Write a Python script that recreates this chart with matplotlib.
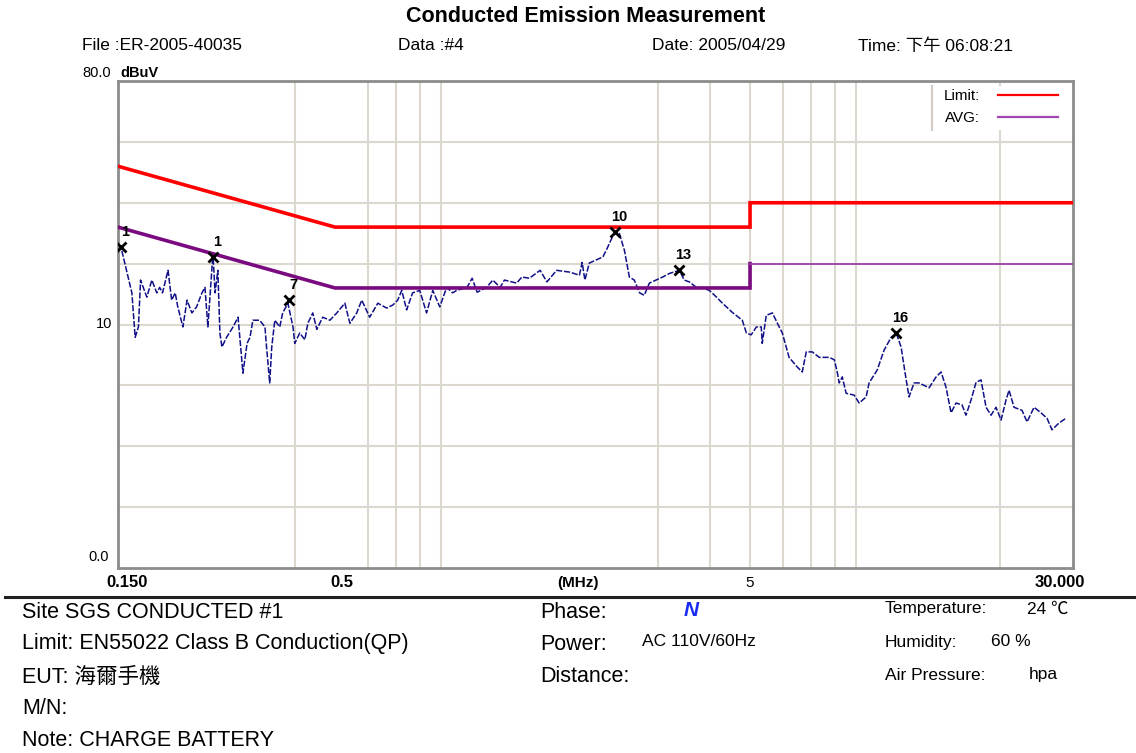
import numpy as np
import matplotlib
matplotlib.use('Agg')
import matplotlib.pyplot as plt
from matplotlib.lines import Line2D
from matplotlib.transforms import offset_copy

plt.rcParams['font.family'] = ['Liberation Sans', 'Noto Sans CJK TC', 'DejaVu Sans']

# trace: frequency (MHz), level (dBuV)
freq = [0.150, 0.1525, 0.162, 0.165, 0.168, 0.170, 0.176, 0.181, 0.186, 0.189,
        0.192, 0.198, 0.202, 0.206, 0.209, 0.215, 0.220, 0.226, 0.232, 0.239,
        0.243, 0.247, 0.254, 0.257, 0.261, 0.264, 0.267, 0.274, 0.284, 0.292,
        0.300, 0.307, 0.312, 0.317, 0.329, 0.339, 0.342, 0.348, 0.352, 0.358,
        0.368, 0.374, 0.385, 0.396, 0.400, 0.411, 0.423, 0.430, 0.442, 0.452,
        0.467, 0.486, 0.505, 0.528, 0.543, 0.564, 0.580, 0.606, 0.634, 0.666,
        0.689, 0.708, 0.724, 0.744, 0.769, 0.800, 0.831, 0.860, 0.894, 0.929,
        0.960, 0.982, 1.04, 1.07, 1.10, 1.16, 1.20, 1.25, 1.28, 1.37,
        1.41, 1.47, 1.56, 1.62, 1.71, 1.84, 1.94, 1.97, 2.00, 2.05,
        2.13, 2.21, 2.27, 2.33, 2.37, 2.42, 2.49, 2.56, 2.63, 2.71,
        2.78, 2.86, 2.97, 3.08, 3.20, 3.38, 3.47, 3.57, 3.71, 3.84,
        3.99, 4.15, 4.29, 4.53, 4.79, 4.90, 5.03, 5.18, 5.32, 5.35,
        5.47, 5.66, 5.82, 5.98, 6.21, 6.50, 6.68, 6.83, 7.06, 7.34,
        7.76, 7.98, 8.11, 8.20, 8.34, 8.52, 8.91, 9.16, 9.52, 9.68,
        10.12, 10.52, 10.94, 11.25, 11.56, 11.76, 11.89, 12.08, 12.42, 12.77,
        13.50, 14.04, 14.43, 14.83, 15.25, 15.68, 16.21, 16.57, 17.04, 17.52,
        18.01, 18.52, 19.04, 19.57, 20.13, 20.69, 21.04, 21.63, 22.61, 23.25,
        24.17, 25.11, 25.97, 26.70, 27.74, 28.84]
level = [52.2, 52.7, 45.2, 37.9, 39.6, 47.3, 44.5, 47.3, 45.2, 46.1,
         45.2, 48.9, 44.0, 45.2, 42.9, 39.6, 44.0, 41.9, 42.9, 45.2,
         46.1, 39.6, 51.7, 45.2, 48.9, 38.6, 36.3, 37.9, 39.6, 41.2,
         32.0, 36.9, 37.9, 40.7, 40.7, 39.6, 36.3, 30.4, 36.3, 40.7,
         39.6, 41.9, 43.5, 39.6, 36.9, 38.6, 37.5, 40.2, 41.9, 39.2,
         41.2, 40.7, 41.9, 43.5, 40.2, 41.9, 44.0, 41.2, 43.5, 42.7,
         43.2, 44.0, 45.6, 42.4, 45.2, 45.6, 41.9, 45.6, 42.9, 46.1,
         45.2, 45.6, 46.1, 47.6, 45.3, 46.1, 47.3, 46.1, 47.3, 46.8,
         47.8, 47.6, 48.9, 47.0, 48.9, 48.6, 48.1, 50.2, 47.3, 50.1,
         50.6, 51.1, 52.7, 54.4, 55.2, 55.0, 52.2, 47.8, 47.3, 45.2,
         44.8, 46.8, 47.3, 47.8, 48.4, 48.9, 47.3, 47.0, 46.1, 46.0,
         45.6, 44.5, 43.5, 42.0, 40.7, 38.6, 38.3, 39.6, 39.6, 36.9,
         41.5, 41.9, 40.2, 38.6, 34.6, 33.0, 32.2, 35.5, 35.5, 34.6,
         34.6, 34.2, 32.2, 30.4, 31.4, 28.7, 28.4, 27.1, 28.1, 30.4,
         32.5, 35.8, 37.9, 38.6, 36.3, 33.0, 30.9, 28.1, 30.4, 30.4,
         29.6, 31.4, 32.2, 29.7, 25.5, 27.1, 26.8, 25.1, 27.6, 30.5,
         30.9, 26.4, 25.1, 26.4, 24.3, 27.6, 29.2, 26.4, 25.9, 24.0,
         26.4, 25.5, 24.6, 22.7, 23.8, 24.6]

# EN55022 class B limits
qp_f = [0.15, 0.5, 5, 5, 30]
qp_db = [66, 56, 56, 60, 60]
avg_f = [0.15, 0.5, 5, 5]
avg_db = [56, 46, 46, 50]
avg_hi_f = [5, 30]
avg_hi_db = [50, 50]

# marked peaks
mark_f = [0.1525, 0.254, 0.387, 2.37, 3.38, 11.25]
mark_db = [52.7, 51.1, 44.0, 55.2, 48.9, 38.6]
mark_txt = ['1', '1', '7', '10', '13', '16']

grid_f = [0.4, 0.6, 0.7, 0.8, 0.9, 3, 4, 5, 6, 7, 8, 9, 20]
grid_db = [10, 20, 30, 40, 50, 60, 70]

W, H = 1136, 753
fig = plt.figure(figsize=(W / 100, H / 100), dpi=100)
ax = fig.add_axes([118 / W, 1 - 568 / H, 955 / W, 487 / H])


def fpos(x, y):
    return x / W, 1 - y / H


gridc = '#dcd8d0'
for g in grid_f:
    ax.axvline(g, color=gridc, lw=1.5, zorder=1)
for g in grid_db:
    ax.axhline(g, color=gridc, lw=1.5, zorder=1)

ax.plot(freq, level, color='#101088', lw=1.1, dashes=(4, 1.2), zorder=3)
ax.plot(qp_f, qp_db, color='#ff0000', lw=2.6, zorder=4, solid_joinstyle='miter')
ax.plot(avg_f, avg_db, color='#7a0a80', lw=2.6, zorder=4, solid_joinstyle='miter')
ax.plot(avg_hi_f, avg_hi_db, color='#9a40a8', lw=1.3, zorder=4)
ax.plot(mark_f, mark_db, 'x', color='black', ms=7, mew=2, zorder=5)
for f, d, t in zip(mark_f, mark_db, mark_txt):
    ax.annotate(t, (f, d), xytext=(3, 6), textcoords='offset points',
                ha='center', va='bottom', fontsize=10.5, fontweight='bold', zorder=6)

ax.set_xscale('log')
ax.set_xlim(0.15, 30)
ax.set_ylim(0, 80)
ax.set_xticks([])
ax.set_yticks([])
ax.minorticks_off()
for s in ax.spines.values():
    s.set_color('#8c8c8c')
    s.set_linewidth(2)

# legend: a white box in the upper right, text first, line after
hl = [Line2D([], [], color='#ff0000', lw=1.6), Line2D([], [], color='#a048b0', lw=1.6)]
leg = ax.legend(hl, ['Limit:', 'AVG:'], loc='upper right', bbox_to_anchor=(0.987, 0.99),
                markerfirst=False, frameon=True, fancybox=False, framealpha=1,
                edgecolor='none', fontsize=11, handlelength=3.9, handletextpad=1.2,
                borderpad=0.2, labelspacing=0.55, borderaxespad=0)
leg.set_zorder(7)
ax.add_patch(plt.Rectangle((0.852, 0.899), 0.147, 0.091, transform=ax.transAxes,
                           facecolor='white', edgecolor='none', zorder=6.5))
ax.add_line(Line2D([0.852, 0.852], [0.899, 0.99], transform=ax.transAxes,
                   color='#d0ccc4', lw=1.5, zorder=8))

# axis labels
xt = ax.get_xaxis_transform()
lab_y = -0.03
ax.text(0.15, lab_y, '0.150', transform=offset_copy(xt, fig, x=9, units='dots'),
        ha='center', va='center', fontsize=12, fontweight='bold')
ax.text(0.5, lab_y, '0.5', transform=offset_copy(xt, fig, x=7, units='dots'),
        ha='center', va='center', fontsize=12, fontweight='bold')
ax.text(1.92, lab_y, '(MHz)', transform=xt, ha='center', va='center',
        fontsize=11, fontweight='bold')
ax.text(5, lab_y, '5', transform=xt, ha='center', va='center', fontsize=11)
ax.text(30, lab_y, '30.000', transform=offset_copy(xt, fig, x=12, units='dots'),
        ha='right', va='center', fontsize=12, fontweight='bold')
ax.text(-0.006, 40, '10', transform=ax.get_yaxis_transform(), ha='right', va='center',
        fontsize=10.5)
ax.text(-0.01, 1.8, '0.0', transform=ax.get_yaxis_transform(), ha='right', va='center',
        fontsize=10.5)

fig.text(*fpos(82, 73), '80.0', ha='left', va='center', fontsize=10.5)
fig.text(*fpos(120, 73), 'dBuV', ha='left', va='center', fontsize=10.5, fontweight='bold')

# header
fig.text(*fpos(586, 16), 'Conducted Emission Measurement', ha='center', va='center',
         fontsize=15.5, fontweight='bold')
fig.text(*fpos(82, 46), 'File :ER-2005-40035', ha='left', va='center', fontsize=12.5)
fig.text(*fpos(398, 46), 'Data :#4', ha='left', va='center', fontsize=12.5)
fig.text(*fpos(652, 46), 'Date: 2005/04/29', ha='left', va='center', fontsize=12.5)
fig.text(*fpos(858, 46), 'Time: 下午 06:08:21', ha='left', va='center', fontsize=12.5)

fig.add_artist(Line2D([5 / W, 1], [1 - 597 / H] * 2, color='#202020', lw=2.2))

# footer info
left_rows = ['Site SGS CONDUCTED #1', 'Limit: EN55022 Class B Conduction(QP)',
             'EUT: 海爾手機', 'M/N:', 'Note: CHARGE BATTERY']
left_y = [612, 644, 677, 709, 740]
for t, y in zip(left_rows, left_y):
    fig.text(*fpos(22, y), t, ha='left', va='center', fontsize=15.5)

mid_rows = ['Phase:', 'Power:', 'Distance:']
for t, y in zip(mid_rows, left_y[:3]):
    fig.text(*fpos(540, y), t, ha='left', va='center', fontsize=15.5)
fig.text(*fpos(684, 611), 'N', ha='left', va='center', fontsize=15, color='#1a2cf0',
         fontweight='bold', fontstyle='italic')
fig.text(*fpos(642, 641), 'AC 110V/60Hz', ha='left', va='center', fontsize=12.5)

right_rows = ['Temperature:', 'Humidity:', 'Air Pressure:']
right_y = [609, 642, 675]
for t, y in zip(right_rows, right_y):
    fig.text(*fpos(885, y), t, ha='left', va='center', fontsize=12.5)
fig.text(*fpos(1027, 609), '24 ℃', ha='left', va='center', fontsize=12.5)
fig.text(*fpos(991, 642), '60 %', ha='left', va='center', fontsize=12.5)
fig.text(*fpos(1029, 675), 'hpa', ha='left', va='center', fontsize=12.5)

fig.savefig('out.png', dpi=100, facecolor='white')
